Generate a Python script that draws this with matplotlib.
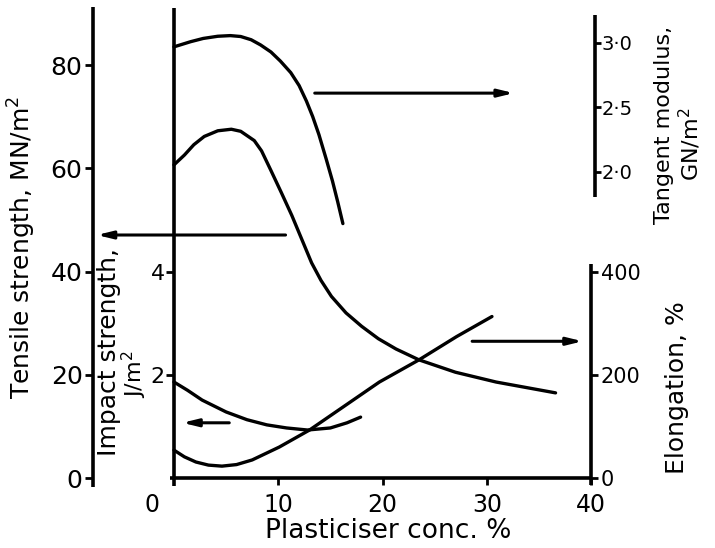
import matplotlib
matplotlib.use("Agg")
import matplotlib.pyplot as plt

# Plasticiser concentration (%) and the four measured properties
conc_modulus = [0, 1.6, 2.8, 4.2, 5.4, 6.4, 7.4, 8.3, 9.3, 10.2, 11.2, 12.0,
                12.7, 13.3, 13.9, 14.6, 15.2, 15.7, 16.2]
modulus = [2.97, 3.01, 3.035, 3.052, 3.057, 3.05, 3.025, 2.985, 2.93, 2.86,
           2.77, 2.67, 2.55, 2.43, 2.29, 2.10, 1.93, 1.77, 1.60]

conc_tensile = [0, 1.0, 1.9, 2.9, 4.2, 5.5, 6.4, 7.7, 8.4, 9.3, 10.3, 11.3,
                13.2, 14.1, 15.1, 16.5, 18.0, 19.6, 21.3, 23.5, 27.0, 30.9, 36.6]
tensile = [60.7, 62.6, 64.6, 66.2, 67.3, 67.6, 67.2, 65.4, 63.4, 59.6, 55.3,
           50.9, 41.7, 38.3, 35.2, 32.0, 29.4, 27.0, 25.0, 22.9, 20.5, 18.6, 16.5]

conc_impact = [0, 1.3, 2.7, 5.0, 7.0, 8.9, 10.8, 12.8, 15.0, 16.6, 17.9]
impact = [1.86, 1.70, 1.51, 1.28, 1.13, 1.03, 0.97, 0.93, 0.97, 1.07, 1.18]

conc_elong = [0, 1.0, 2.1, 3.3, 4.6, 6.0, 7.5, 10.1, 13.0, 16.1, 19.7, 23.5, 27.1, 30.5]
elongation = [54, 41, 31, 25, 23, 26, 35, 60, 93, 136, 186, 229, 274, 313]

x_ticks = [10, 20, 30, 40]
x_tick_labels = ["10", "20", "30", "40"]
tensile_ticks = [0, 20, 40, 60, 80]
impact_ticks = [2, 4]
elong_ticks = [0, 200, 400]
modulus_ticks = [2.0, 2.5, 3.0]
modulus_tick_labels = ["2\u00b70", "2\u00b75", "3\u00b70"]

plt.rcParams["font.family"] = ["DejaVu Sans"]

LW_SPINE = 2.6
LW_CURVE = 2.4
fig = plt.figure(figsize=(7.15, 5.48), dpi=100)
fig.patch.set_facecolor("white")

ax = fig.add_axes([174 / 715, 70 / 548, 417 / 715, 470 / 548])
ax.set_xlim(0, 40)
ax.set_ylim(0, 91.1)
ax.patch.set_alpha(0)

# twin scales sharing the concentration axis
ax_imp = ax.twinx()
ax_imp.set_ylim(0, 9.11)
ax_el = ax.twinx()
ax_el.set_ylim(0, 911)
ax_mod = ax.twinx()
ax_mod.set_ylim(-0.372, 3.271)

for a in (ax, ax_imp, ax_el, ax_mod):
    for s in a.spines.values():
        s.set_visible(False)
        s.set_linewidth(LW_SPINE)
        s.set_capstyle("butt")

# tensile strength scale (outer left)
ax.spines["left"].set_visible(True)
ax.spines["left"].set_position(("outward", 58.3))
ax.spines["left"].set_bounds(-1.7, 91.3)
ax.set_yticks(tensile_ticks)
ax.tick_params(axis="y", direction="out", length=6, width=2, pad=1.5, labelsize=18)

# concentration axis
ax.spines["bottom"].set_visible(True)
ax.spines["bottom"].set_bounds(-0.4, 40)
ax.set_xticks(x_ticks)
ax.set_xticklabels(x_tick_labels)
ax.tick_params(axis="x", direction="out", length=5, width=2, pad=6, labelsize=17)
ax.annotate("0", xy=(-2.1, 0), xycoords=("data", "axes fraction"),
            xytext=(0, -11), textcoords="offset points",
            ha="center", va="top", fontsize=17)

# impact strength scale (inner left)
ax_imp.yaxis.set_ticks_position("left")
ax_imp.spines["left"].set_visible(True)
ax_imp.spines["left"].set_bounds(-0.15, 9.11)
ax_imp.set_yticks(impact_ticks)
ax_imp.tick_params(axis="y", left=True, right=False, labelleft=True, labelright=False,
                   direction="out", length=6, width=2, pad=0.5, labelsize=16)

# elongation scale (lower right)
ax_el.spines["right"].set_visible(True)
ax_el.spines["right"].set_bounds(-14, 414)
ax_el.set_yticks(elong_ticks)
ax_el.tick_params(axis="y", direction="out", length=5, width=2, pad=2, labelsize=15)

# tangent modulus scale (upper right)
ax_mod.spines["right"].set_visible(True)
ax_mod.spines["right"].set_position(("outward", 2.9))
ax_mod.spines["right"].set_bounds(1.806, 3.217)
ax_mod.set_yticks(modulus_ticks)
ax_mod.set_yticklabels(modulus_tick_labels)
ax_mod.tick_params(axis="y", direction="out", length=4, width=2, pad=0.5, labelsize=14)

line_kw = dict(color="black", lw=LW_CURVE, solid_joinstyle="round",
               solid_capstyle="round", clip_on=False)
ax_mod.plot(conc_modulus, modulus, **line_kw)
ax.plot(conc_tensile, tensile, **line_kw)
ax_imp.plot(conc_impact, impact, **line_kw)
ax_el.plot(conc_elong, elongation, **line_kw)

# arrows pointing each curve to its scale
arrow_kw = dict(arrowstyle="-|>,head_length=0.9,head_width=0.22",
                color="black", lw=2.2, shrinkA=0, shrinkB=0)
for tail, head in [((13.5, 74.6), (32.6, 74.6)),
                   ((10.7, 47.1), (-7.4, 47.1)),
                   ((5.3, 10.7), (0.8, 10.7)),
                   ((28.6, 26.5), (39.2, 26.5))]:
    ax.annotate("", xy=head, xytext=tail, xycoords="data",
                arrowprops=arrow_kw, annotation_clip=False)

# axis titles
fig.text(388 / 715, 1 - 531 / 548, "Plasticiser conc. %", ha="center", va="center",
         fontsize=19)
fig.text(22 / 715, 1 - 247 / 548, "Tensile strength, MN/m$^2$", ha="center",
         va="center", rotation=90, fontsize=18)
fig.text(109 / 715, 1 - 352 / 548, "Impact strength,", ha="center", va="center",
         rotation=90, fontsize=18)
fig.text(134 / 715, 1 - 374 / 548, "J/m$^2$", ha="center", va="center",
         rotation=90, fontsize=16)
fig.text(664 / 715, 1 - 125 / 548, "Tangent modulus,", ha="center", va="center",
         rotation=90, fontsize=16)
fig.text(690 / 715, 1 - 144 / 548, "GN/m$^2$", ha="center", va="center",
         rotation=90, fontsize=16)
fig.text(677 / 715, 1 - 388 / 548, "Elongation, %", ha="center", va="center",
         rotation=90, fontsize=18)

fig.savefig("out.png", dpi=100)
